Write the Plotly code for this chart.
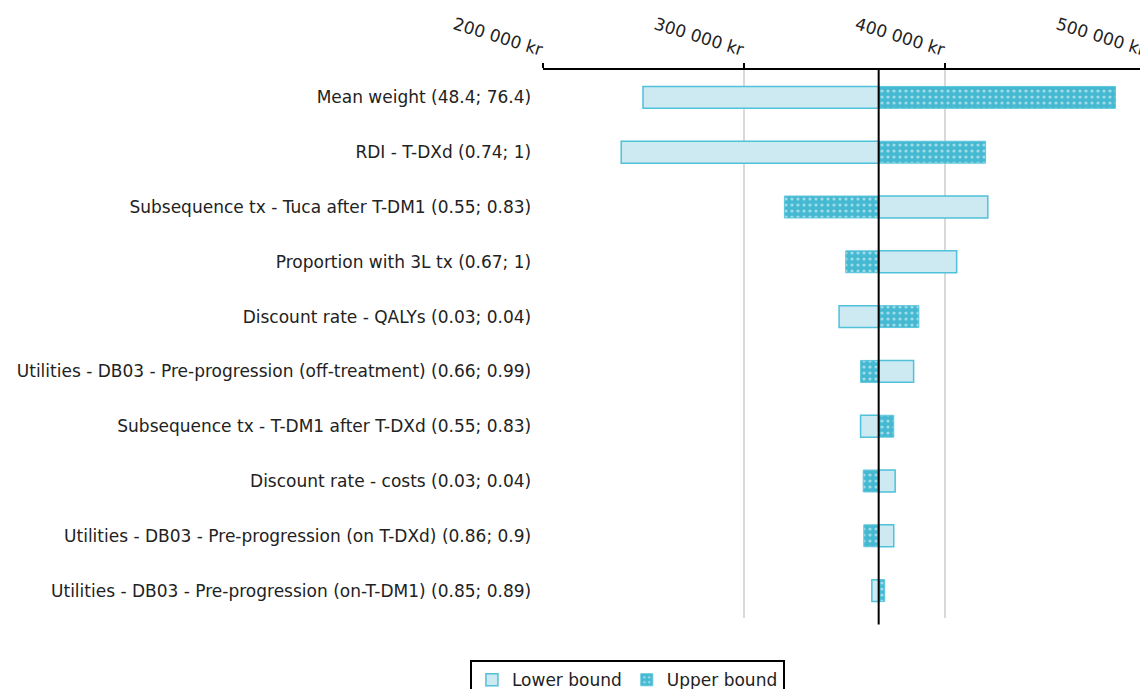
import plotly.graph_objects as go

categories = [
    "Mean weight (48.4; 76.4)",
    "RDI - T-DXd (0.74; 1)",
    "Subsequence tx - Tuca after T-DM1 (0.55; 0.83)",
    "Proportion with 3L tx (0.67; 1)",
    "Discount rate - QALYs (0.03; 0.04)",
    "Utilities - DB03 - Pre-progression (off-treatment) (0.66; 0.99)",
    "Subsequence tx - T-DM1 after T-DXd (0.55; 0.83)",
    "Discount rate - costs (0.03; 0.04)",
    "Utilities - DB03 - Pre-progression (on T-DXd) (0.86; 0.9)",
    "Utilities - DB03 - Pre-progression (on-T-DM1) (0.85; 0.89)",
]
base_value = 367000
lower_bound = [249750, 238900, 421300, 405800, 347300, 384400, 358000, 375200, 374500, 363600]
upper_bound = [484800, 420200, 320100, 350600, 387000, 358000, 374500, 359300, 359600, 370000]
tick_vals = [200000, 300000, 400000, 500000]
tick_text = ["200 000 kr", "300 000 kr", "400 000 kr", "500 000 kr"]

FONT = "DejaVu Sans, Arial, sans-serif"
TXT = "#222222"

fig = go.Figure()
fig.add_trace(go.Bar(
    name="Lower bound",
    y=categories,
    x=[v - base_value for v in lower_bound],
    base=[base_value] * len(categories),
    orientation="h",
    width=0.4,
    marker=dict(color="#cde9f2", line=dict(color="#4fc1d9", width=1.5)),
))
fig.add_trace(go.Bar(
    name="Upper bound",
    y=categories,
    x=[v - base_value for v in upper_bound],
    base=[base_value] * len(categories),
    orientation="h",
    width=0.4,
    marker=dict(
        color="#45b9d1",
        line=dict(color="#5bc5dc", width=1),
        pattern=dict(shape=".", fgcolor="white", bgcolor="#45b9d1", size=6, solidity=0.22),
    ),
))

fig.add_shape(type="line", xref="x", yref="paper", x0=base_value, x1=base_value,
              y0=-0.012, y1=1, line=dict(color="black", width=2))

fig.update_layout(
    width=1140, height=681,
    margin=dict(l=535, r=2, t=62, b=71, autoexpand=False),
    barmode="overlay",
    plot_bgcolor="white",
    paper_bgcolor="white",
    font=dict(family=FONT, size=17, color=TXT),
    xaxis=dict(
        side="top",
        range=[200000, 500000],
        tickvals=tick_vals,
        ticktext=tick_text,
        tickangle=17,
        automargin=False,
        ticklabeloverflow="allow",
        showgrid=True,
        gridcolor="#d9d9d9",
        gridwidth=1.5,
        showline=True,
        linecolor="black",
        linewidth=2,
        ticks="outside",
        ticklen=5,
        tickwidth=2,
        tickcolor="black",
        zeroline=False,
        tickfont=dict(family=FONT, size=17, color=TXT),
    ),
    yaxis=dict(
        autorange="reversed",
        automargin=False,
        showline=False,
        showgrid=False,
        ticks="",
        ticksuffix="  ",
        tickfont=dict(family=FONT, size=17, color=TXT),
    ),
    legend=dict(
        orientation="h",
        x=0.14, xanchor="center",
        y=-0.077, yanchor="top",
        bordercolor="black",
        borderwidth=2,
        itemwidth=30,
        font=dict(family=FONT, size=17, color=TXT),
        traceorder="normal",
    ),
    showlegend=True,
)

fig.write_html("out.html")
